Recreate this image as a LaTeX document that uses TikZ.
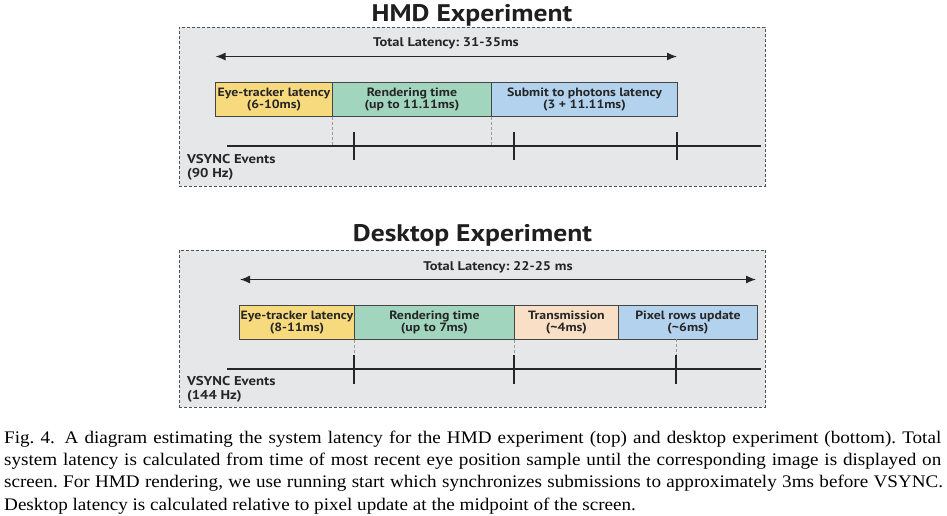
\documentclass[tikz,border=0pt]{standalone}
\usepackage{fontspec}
\setmainfont{Liberation Serif}[FakeStretch=1.08]
\newfontfamily\dfont{PT Sans}[FakeStretch=1.15]
\usetikzlibrary{arrows.meta}
\definecolor{panelfill}{HTML}{E6E7E8}
\definecolor{paneldraw}{HTML}{505050}
\definecolor{cyellow}{HTML}{F8DA7E}
\definecolor{cgreen}{HTML}{A2D5BE}
\definecolor{cblue}{HTML}{B2D2EE}
\definecolor{cpeach}{HTML}{F8DFC5}
\definecolor{barline}{HTML}{454545}
\definecolor{guide}{HTML}{9A9A9A}
\tikzset{
  panel/.style={draw=paneldraw, fill=panelfill, line width=0.9pt, dash pattern=on 3pt off 2pt, inner sep=0pt, anchor=north west},
  bar/.style={draw=barline, line width=0.9pt, inner sep=0pt, anchor=north west, align=center,
    font=\dfont\bfseries\fontsize{12}{12.5}\selectfont, text=black!85},
  ttl/.style={font=\dfont\bfseries\fontsize{24}{26}\selectfont, anchor=base, text=black!88},
  tot/.style={font=\dfont\bfseries\fontsize{12.6}{13}\selectfont, anchor=base, text=black!85},
  vs/.style={font=\dfont\bfseries\fontsize{12.8}{14}\selectfont, anchor=base west, text=black!85},
  span/.style={line width=1.3pt, draw=black!85, {Latex[length=10pt,width=8pt]}-{Latex[length=10pt,width=8pt]}},
  tline/.style={line width=2.4pt, draw=black!85},
  tick/.style={line width=2pt, draw=black!85},
  guideline/.style={draw=guide, line width=0.9pt, dash pattern=on 3pt off 2pt},
  captxt/.style={font=\fontsize{17.7}{22.3}\selectfont, anchor=base west, inner sep=0pt},
}
\frenchspacing
\begin{document}
\begin{tikzpicture}[x=1pt,y=-1pt]
\useasboundingbox[fill=white] (0,0) rectangle (947,515);

% ---------- HMD ----------
\node[ttl] (hmdtitle) at (472,21.5) {HMD Experiment};
\node[panel, minimum width=586pt, minimum height=159pt] (hmdpanel) at (179,27) {};
\coordinate (ha1) at (215.5,56.5);
\coordinate (ha2) at (677,56.5);
\draw[span] (ha1) -- (ha2);
\node[tot] (hmdtot) at (446,46.3) {Total Latency: 31-35ms};
\node[bar, fill=cyellow, minimum width=117pt, minimum height=34pt] (hy) at (215,82) {Eye-tracker latency\\(6-10ms)};
\node[bar, fill=cgreen, minimum width=159pt, minimum height=34pt] (hg) at (332,82) {Rendering time\\(up to 11.11ms)};
\node[bar, fill=cblue, minimum width=186pt, minimum height=34pt] (hb) at (491,82) {Submit to photons latency\\(3 + 11.11ms)};
\coordinate (ht1) at (227,146);
\coordinate (ht2) at (761,146);
\draw[guideline] (hy.south east) -- (hy.south east |- ht1);
\draw[guideline] (hg.south east) -- (hg.south east |- ht1);
\draw[tline] (ht1) -- (ht2);
\coordinate (hk1a) at (354,132); \coordinate (hk1b) at (354,160);
\coordinate (hk2a) at (514,132); \coordinate (hk2b) at (514,160);
\coordinate (hk3a) at (677,132); \coordinate (hk3b) at (677,160);
\draw[tick] (hk1a) -- (hk1b);
\draw[tick] (hk2a) -- (hk2b);
\draw[tick] (hk3a) -- (hk3b);
\node[vs] (hvs1) at (183.5,163) {VSYNC Events};
\node[vs] (hvs2) at (183.5,177) {(90 Hz)};

% ---------- Desktop ----------
\node[ttl] (dtitle) at (472.5,241) {Desktop Experiment};
\node[panel, minimum width=586pt, minimum height=157.5pt] (dpanel) at (179,249.5) {};
\coordinate (da1) at (240,279.5);
\coordinate (da2) at (756,279.5);
\draw[span] (da1) -- (da2);
\node[tot] (dtot) at (498,270.5) {Total Latency: 22-25 ms};
\node[bar, fill=cyellow, minimum width=115pt, minimum height=34pt] (dy) at (239,305) {Eye-tracker latency\\(8-11ms)};
\node[bar, fill=cgreen, minimum width=160pt, minimum height=34pt] (dg) at (354,305) {Rendering time\\(up to 7ms)};
\node[bar, fill=cpeach, minimum width=104pt, minimum height=34pt] (dp) at (514,305) {Transmission\\(\textasciitilde4ms)};
\node[bar, fill=cblue, minimum width=139pt, minimum height=34pt] (db) at (618,305) {Pixel rows update\\(\textasciitilde6ms)};
\coordinate (dt1) at (227,369);
\coordinate (dt2) at (761,369);
\coordinate (dg1) at (676,339);
\coordinate (dg1e) at (676,355);
\draw[guideline] (dy.south east) -- ++(0,16);
\draw[guideline] (dg.south east) -- ++(0,16);
\draw[guideline] (dg1) -- (dg1e);
\draw[tline] (dt1) -- (dt2);
\coordinate (dk1a) at (354,355); \coordinate (dk1b) at (354,384);
\coordinate (dk2a) at (514,355); \coordinate (dk2b) at (514,384);
\coordinate (dk3a) at (676,355); \coordinate (dk3b) at (676,384);
\draw[tick] (dk1a) -- (dk1b);
\draw[tick] (dk2a) -- (dk2b);
\draw[tick] (dk3a) -- (dk3b);
\node[vs] (dvs1) at (183.5,385) {VSYNC Events};
\node[vs] (dvs2) at (183.5,399) {(144 Hz)};

% ---------- Caption ----------
\node[captxt] (c1) at (4,443.3) {\makebox[937pt][s]{Fig. 4.\hspace{0.55em}A diagram estimating the system latency for the HMD experiment (top) and desktop experiment (bottom). Total}};
\node[captxt] (c2) at (4,465.6) {\makebox[937pt][s]{system latency is calculated from time of most recent eye position sample until the corresponding image is displayed on}};
\node[captxt] (c3) at (4,487.9) {\makebox[939pt][s]{screen. For HMD rendering, we use running start which synchronizes submissions to approximately 3ms before VSYNC.}};
\node[captxt] (c4) at (4,510.2) {Desktop latency is calculated relative to pixel update at the midpoint of the screen.};
\end{tikzpicture}
\end{document}
